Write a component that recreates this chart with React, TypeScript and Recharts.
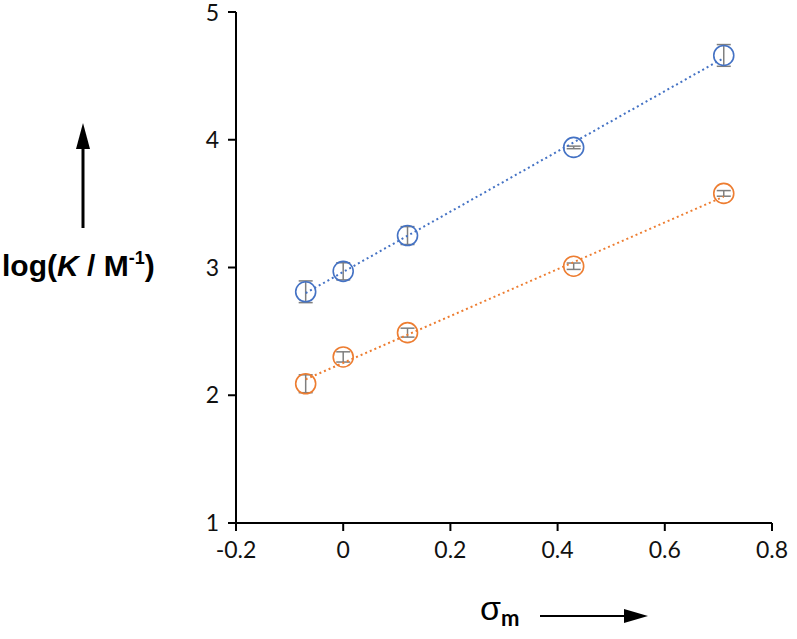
import { ScatterChart, Scatter, XAxis, YAxis, ErrorBar } from "recharts";

const sigmaM = [-0.07, 0, 0.12, 0.43, 0.71];
const blueLogK = [2.81, 2.97, 3.25, 3.94, 4.66];
const blueErr = [0.085, 0.067, 0.07, 0.01, 0.085];
const orangeLogK = [2.09, 2.3, 2.49, 3.01, 3.58];
const orangeErr = [0.07, 0.04, 0.035, 0.025, 0.022];

// trend line end points
const trendX = [-0.07, 0.71];
const blueTrend = [2.8, 4.64];
const orangeTrend = [2.125, 3.555];

const xTicks = [-0.2, 0, 0.2, 0.4, 0.6, 0.8];
const yTicks = [1, 2, 3, 4, 5];

const BLUE = "#4472c4";
const ORANGE = "#ed7d31";

const blueData = sigmaM.map((x, i) => ({ x, y: blueLogK[i], err: blueErr[i] }));
const orangeData = sigmaM.map((x, i) => ({ x, y: orangeLogK[i], err: orangeErr[i] }));
const blueLine = trendX.map((x, i) => ({ x, y: blueTrend[i] }));
const orangeLine = trendX.map((x, i) => ({ x, y: orangeTrend[i] }));

function ringShape(color: string) {
  return (props: any) => (
    <circle cx={props.cx} cy={props.cy} r={10} fill="none" stroke={color} strokeWidth={1.6} />
  );
}

const noDot = () => <g />;

const tickStyle = { fontSize: 23, fill: "#111", fontFamily: "Lato, 'Open Sans', sans-serif" };

export default function App() {
  return (
    <div style={{ position: "absolute", left: 0, top: 0, width: 797, height: 639, background: "#fff" }}>
      <ScatterChart width={797} height={639} margin={{ top: 12, right: 25, bottom: 76, left: 0 }}>
        <XAxis
          type="number"
          dataKey="x"
          domain={[-0.2, 0.8]}
          ticks={xTicks}
          tick={tickStyle}
          tickSize={8}
          tickMargin={11}
          height={40}
          axisLine={{ stroke: "#000", strokeWidth: 2 }}
          tickLine={{ stroke: "#000", strokeWidth: 2 }}
          allowDataOverflow
        />
        <YAxis
          type="number"
          dataKey="y"
          domain={[1, 5]}
          ticks={yTicks}
          tick={tickStyle}
          tickSize={8}
          tickMargin={9}
          width={236}
          axisLine={{ stroke: "#000", strokeWidth: 2 }}
          tickLine={{ stroke: "#000", strokeWidth: 2 }}
          allowDataOverflow
        />
        <Scatter
          data={blueLine}
          line={{ stroke: BLUE, strokeWidth: 2, strokeDasharray: "2 3" }}
          lineType="joint"
          shape={noDot}
          isAnimationActive={false}
        />
        <Scatter
          data={orangeLine}
          line={{ stroke: ORANGE, strokeWidth: 2, strokeDasharray: "2 3" }}
          lineType="joint"
          shape={noDot}
          isAnimationActive={false}
        />
        <Scatter data={blueData} shape={ringShape(BLUE)} isAnimationActive={false}>
          <ErrorBar dataKey="err" direction="y" width={7} stroke="#7f7f7f" strokeWidth={1.5} isAnimationActive={false} />
        </Scatter>
        <Scatter data={orangeData} shape={ringShape(ORANGE)} isAnimationActive={false}>
          <ErrorBar dataKey="err" direction="y" width={7} stroke="#7f7f7f" strokeWidth={1.5} isAnimationActive={false} />
        </Scatter>
      </ScatterChart>
      <svg width={797} height={639} style={{ position: "absolute", left: 0, top: 0, pointerEvents: "none" }}>
        <line x1={83} y1={228} x2={83} y2={145} stroke="#000" strokeWidth={3} />
        <polygon points="83,123 76,149 90,149" fill="#000" />
        <text x={2} y={276} fontFamily="'Liberation Sans', Arial, sans-serif" fontWeight="bold" fontSize={30} fill="#000">
          log(<tspan fontStyle="italic">K</tspan> / M
          <tspan fontSize={18} dy={-12}>-1</tspan>
          <tspan dy={12}>)</tspan>
        </text>
        <text x={480} y={620} fontFamily="'Liberation Sans', Arial, sans-serif" fontSize={34} fill="#000">
          σ<tspan fontSize={22} fontWeight="bold" fontFamily="Lato, sans-serif" dy={6}>m</tspan>
        </text>
        <line x1={540} y1={616} x2={630} y2={616} stroke="#000" strokeWidth={2} />
        <polygon points="648,616 624,609 624,623" fill="#000" />
      </svg>
    </div>
  );
}
